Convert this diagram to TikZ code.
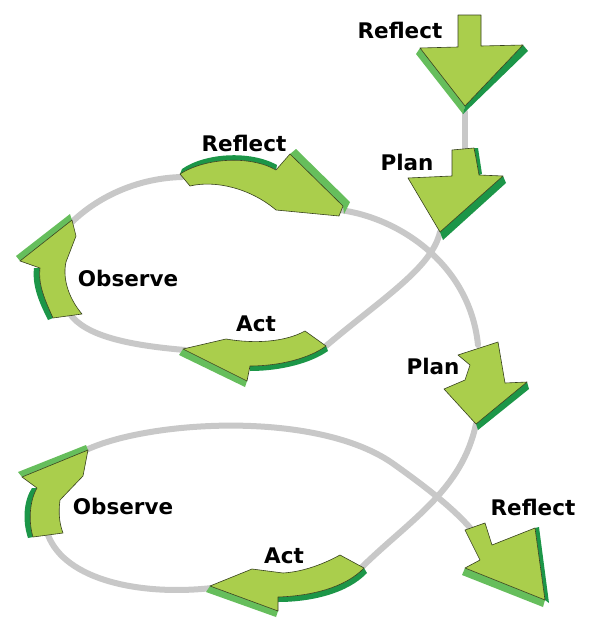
\documentclass[tikz,border=0pt]{standalone}
\usepackage{fontspec}
\newfontfamily\lblfont{DejaVu Sans}
\definecolor{pathgray}{RGB}{200,200,200}
\definecolor{lightg}{RGB}{170,206,76}
\definecolor{midg}{RGB}{102,190,92}
\definecolor{darkg}{RGB}{28,150,72}
\definecolor{edgeg}{RGB}{55,65,30}
\begin{document}
\begin{tikzpicture}[x=1pt,y=-1pt,
  track/.style={draw=pathgray,line width=6pt,line cap=round},
  leaf/.style={fill=lightg,draw=edgeg,line width=0.6pt,line join=round},
  band/.style={fill=midg},
  shadeband/.style={fill=darkg},
  lbl/.style={font=\lblfont\bfseries\fontsize{21.5}{24}\selectfont,inner sep=0pt,text=black}]
\useasboundingbox (0,0) rectangle (592,619);
\fill[white] (0,0) rectangle (592,619);

% ---------- gray spiral track ----------
\coordinate (a1) at (465,112);
\coordinate (a2) at (465,150);
\coordinate (b1) at (440,232);
\coordinate (b2) at (326,346);
\coordinate (c1) at (340,210);
\coordinate (c2) at (478,345);
\coordinate (d1) at (185,350);
\coordinate (d2) at (70,314);
\coordinate (e1) at (72,222);
\coordinate (e2) at (182,177);
\coordinate (f1) at (476,424);
\coordinate (f2) at (362,567);
\coordinate (g1) at (212,588);
\coordinate (g2) at (48,535);
\coordinate (h1) at (86,450);
\coordinate (h2) at (472,530);

\draw[track] (a1) -- (a2);
\draw[track] (b1) .. controls (432,268) and (380,300) .. (b2);
\draw[track] (c1) .. controls (400,218) and (470,265) .. (c2);
\draw[track] (d1) .. controls (125,345) and (85,335) .. (d2);
\draw[track] (e1) .. controls (100,195) and (140,178) .. (e2);
\draw[track] (f1) .. controls (462,490) and (410,520) .. (f2);
\draw[track] (g1) .. controls (140,596) and (65,580) .. (g2);
\draw[track] (h1) .. controls (150,420) and (320,410) .. (395,465)
                 .. controls (430,490) and (455,510) .. (h2);

% ---------- top Reflect arrow ----------
\fill[band] (420,48) -- (416,54) -- (463,114) -- (465,106) -- cycle;
\fill[shadeband] (465,106) -- (463,114) -- (528,51) -- (523,45) -- cycle;
\draw[leaf] (458,15) -- (481,15) -- (481,46) -- (523,45) -- (465,106) -- (420,48) -- (458,47) -- cycle;

% ---------- top Plan arrow ----------
\fill[shadeband] (440,232) -- (503,176) -- (506,183) -- (443,240) -- cycle;
\fill[shadeband] (474,148) -- (478,148) -- (482,174) -- (479,175) -- cycle;
\draw[leaf] (452,150) -- (474,148) -- (476,158) -- (479,175) -- (503,176) -- (440,232) -- (408,178) -- (452,176) -- cycle;

% ---------- upper Reflect arrow ----------
\fill[shadeband] (180,174) .. controls (205,158) and (250,155) .. (276,170)
   -- (277,165) .. controls (250,150) and (205,153) .. (182,169) -- cycle;
\fill[band] (290,154) -- (296,149) -- (350,202) -- (344,214) -- (343,206) -- cycle;
\draw[leaf] (180,174) .. controls (205,158) and (250,155) .. (276,170)
   -- (290,154) -- (343,206) -- (339,216) -- (276,210)
   .. controls (250,188) and (215,180) .. (190,186) -- cycle;

% ---------- upper Observe arrow ----------
\fill[band] (20,261) -- (16,256) -- (70,214) -- (72,220) -- cycle;
\fill[shadeband] (40,268) .. controls (38,285) and (45,300) .. (53,318)
   -- (48,320) .. controls (39,302) and (32,286) .. (34,268) -- cycle;
\draw[leaf] (53,318) .. controls (45,300) and (38,285) .. (40,268)
   -- (20,261) -- (72,220) -- (76,236) -- (66,262)
   .. controls (62,280) and (70,300) .. (82,314) -- cycle;

% ---------- upper Act arrow ----------
\fill[band] (183,349) -- (179,355) -- (245,387) -- (247,381) -- cycle;
\fill[shadeband] (250,366) .. controls (280,366) and (310,358) .. (326,346)
   -- (328,351) .. controls (311,363) and (281,371) .. (250,371) -- cycle;
\draw[leaf] (305,331) .. controls (285,342) and (255,344) .. (226,339)
   -- (183,349) -- (247,381) -- (250,366)
   .. controls (280,366) and (310,358) .. (326,346) -- cycle;

% ---------- middle Plan arrow ----------
\fill[shadeband] (476,424) -- (527,382) -- (529,389) -- (478,430) -- cycle;
\draw[leaf] (458,355) -- (498,342) -- (505,383) -- (527,382) -- (476,424)
   -- (444,389) -- (465,380) -- (470,365) -- cycle;

% ---------- lower Observe arrow ----------
\fill[band] (22,477) -- (18,472) -- (86,445) -- (88,450) -- cycle;
\fill[shadeband] (37,488) .. controls (30,500) and (28,520) .. (33,537)
   -- (28,538) .. controls (22,520) and (24,500) .. (32,488) -- cycle;
\draw[leaf] (33,537) .. controls (28,520) and (30,500) .. (37,488)
   -- (22,477) -- (88,450) -- (83,476) -- (60,500)
   .. controls (58,515) and (60,525) .. (63,533) -- cycle;

% ---------- lower Act arrow ----------
\fill[band] (210,586) -- (206,592) -- (276,617) -- (278,611) -- cycle;
\fill[shadeband] (278,597) .. controls (310,596) and (345,588) .. (364,568)
   -- (367,573) .. controls (347,594) and (310,602) .. (278,602) -- cycle;
\draw[leaf] (340,555) .. controls (320,566) and (300,572) .. (283,573)
   -- (252,569) -- (210,586) -- (278,611) -- (278,597)
   .. controls (310,596) and (345,588) .. (364,568) -- cycle;

% ---------- bottom Reflect arrow ----------
\fill[band] (465,568) -- (462,575) -- (543,607) -- (545,600) -- cycle;
\fill[shadeband] (535,528) -- (539,527) -- (549,603) -- (545,600) -- cycle;
\draw[leaf] (465,530) -- (485,523) -- (492,545) -- (535,528) -- (545,600)
   -- (465,568) -- (480,560) -- cycle;

% ---------- labels ----------
\node[lbl] (reflect0) at (400,30) {Reflect};
\node[lbl] (plan1) at (407,162) {Plan};
\node[lbl] (reflect1) at (244,143) {Reflect};
\node[lbl] (observe1) at (128,278) {Observe};
\node[lbl] (act1) at (256,324) {Act};
\node[lbl] (plan2) at (433,366) {Plan};
\node[lbl] (observe2) at (123,506) {Observe};
\node[lbl] (act2) at (284,556) {Act};
\node[lbl] (reflect2) at (533,507) {Reflect};
\end{tikzpicture}
\end{document}
